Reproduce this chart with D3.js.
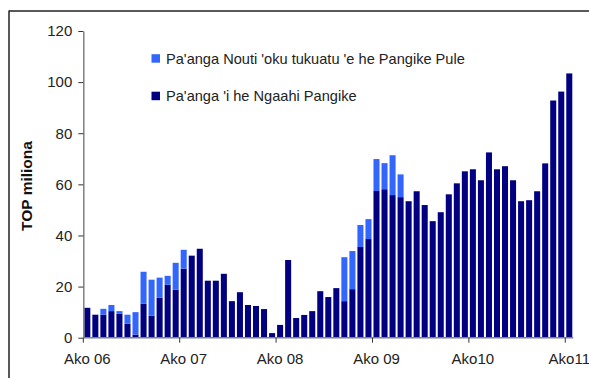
<!DOCTYPE html>
<html>
<head>
<meta charset="utf-8">
<script src="https://cdn.jsdelivr.net/npm/d3@7"></script>
<style>
  html, body { margin: 0; padding: 0; background: #fff; }
  svg { display: block; font-family: "Liberation Sans", Arial, sans-serif; }
</style>
</head>
<body>
<svg id="chart" width="589" height="378"></svg>
<script>
// Monthly data, Ako 06 .. Ako 11 (61 months)
const months = d3.range(61);
const seriesNames = ["Pa'anga 'i he Ngaahi Pangike", "Pa'anga Nouti 'oku tukuatu 'e he Pangike Pule"];
const banks = [11.7, 9.0, 9.0, 10.4, 9.4, 5.5, 1.2, 13.3, 8.6, 15.6, 20.7, 18.8,
               27.0, 32.1, 34.8, 22.3, 22.3, 25.0, 14.3, 17.8, 12.8, 12.4, 11.2, 1.8,
               5.0, 30.4, 7.7, 8.9, 10.4, 18.2, 15.9, 19.4, 14.3, 19.0, 35.5, 38.6,
               57.4, 58.1, 55.8, 55.0, 53.4, 57.3, 51.9, 45.6, 49.1, 56.1, 60.4, 65.1,
               65.9, 61.6, 72.5, 65.9, 67.1, 61.6, 53.4, 53.8, 57.3, 68.2, 92.8, 96.3,
               103.4];
const reserveNotes = [0, 0, 2.3, 2.4, 1.0, 3.5, 8.8, 12.5, 14.1, 7.9, 3.5, 10.5,
                      7.4, 0, 0, 0, 0, 0, 0, 0, 0, 0, 0, 0,
                      0, 0, 0, 0, 0, 0, 0, 0, 17.2, 14.9, 8.6, 7.8,
                      12.5, 10.2, 15.6, 8.9, 0, 0, 0, 0, 0, 0, 0, 0,
                      0, 0, 0, 0, 0, 0, 0, 0, 0, 0, 0, 0,
                      0];
const tickIndex = [0, 12, 24, 36, 48, 60];
const tickLabels = ["Ako 06", "Ako 07", "Ako 08", "Ako 09", "Ako10", "Ako11"];
const yTicks = [0, 20, 40, 60, 80, 100, 120];
const colors = ["#000080", "#3366FF"];

const svg = d3.select("#chart");

// outer frame
svg.append("line").attr("x1", 9).attr("x2", 9).attr("y1", 10.5).attr("y2", 378)
  .attr("stroke", "#222").attr("stroke-width", 1.5);
svg.append("line").attr("x1", 9).attr("x2", 589).attr("y1", 11).attr("y2", 11)
  .attr("stroke", "#222").attr("stroke-width", 1.5);

const x0 = 83.3, x1 = 573.3;
const x = d3.scaleBand().domain(months).range([x0, x1]).paddingInner(0.25).paddingOuter(0.125);
const y = d3.scaleLinear().domain([0, 120]).range([337.7, 31]);

const rows = months.map(i => ({ i, banks: banks[i], notes: reserveNotes[i] }));
const stack = d3.stack().keys(["banks", "notes"]);
const layers = stack(rows);

svg.append("g").selectAll("g").data(layers).join("g")
  .attr("fill", (d, k) => colors[k])
  .selectAll("rect").data(d => d.filter(p => p[1] - p[0] > 0)).join("rect")
  .attr("x", d => x(d.data.i))
  .attr("width", x.bandwidth())
  .attr("y", d => y(d[1]))
  .attr("height", d => y(d[0]) - y(d[1]));

// Y axis
const yAxis = svg.append("g").attr("transform", `translate(${x0},0)`)
  .call(d3.axisLeft(y).tickValues(yTicks).tickSize(5).tickPadding(6).tickSizeOuter(0));
yAxis.select(".domain").attr("stroke", "#808080").attr("stroke-width", 1.5);
yAxis.selectAll(".tick line").attr("stroke", "#333");
yAxis.selectAll("text").attr("font-size", 15).attr("fill", "#222")
  .attr("font-family", "Liberation Sans, Arial, sans-serif");

// X axis
const step = x.step();
const xs = d3.scaleLinear().domain([0, 61]).range([x0, x1]);
const xg = svg.append("g").attr("transform", `translate(0,${y(0)})`);
xg.append("line").attr("x1", x0).attr("x2", x1).attr("y1", 0).attr("y2", 0)
  .attr("stroke", "#808080").attr("stroke-width", 1.5);
xg.selectAll("line.t").data(tickIndex).join("line").attr("class", "t")
  .attr("x1", d => xs(d)).attr("x2", d => xs(d)).attr("y1", 0).attr("y2", 5)
  .attr("stroke", "#333").attr("stroke-width", 1);
xg.selectAll("text").data(tickIndex).join("text")
  .attr("x", (d) => xs(d) + step / 2).attr("y", 26.5)
  .attr("text-anchor", "middle").attr("font-size", 15).attr("fill", "#222")
  .text((d, k) => tickLabels[k]);

// Y axis title
svg.append("text").attr("transform", "translate(31.5,186) rotate(-90)")
  .attr("text-anchor", "middle").attr("font-size", 15.5).attr("font-weight", "bold")
  .attr("fill", "#111").text("TOP miliona");

// Legend
const legendItems = [
  { name: seriesNames[1], color: colors[1], y: 58.5 },
  { name: seriesNames[0], color: colors[0], y: 96 }
];
const lg = svg.append("g").selectAll("g").data(legendItems).join("g")
  .attr("transform", d => `translate(151.5,${d.y})`);
lg.append("rect").attr("x", 0).attr("y", -4.3).attr("width", 8.5).attr("height", 8.5)
  .attr("fill", d => d.color);
lg.append("text").attr("x", 14.5).attr("y", 5).attr("font-size", 14.6).attr("fill", "#222")
  .text(d => d.name);
</script>
</body>
</html>
